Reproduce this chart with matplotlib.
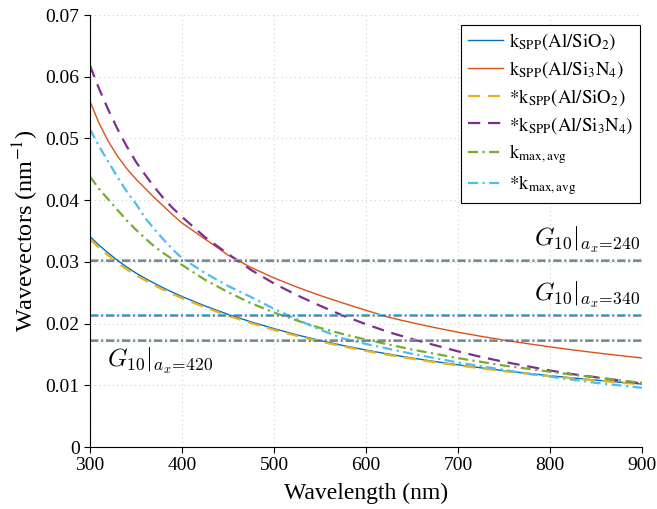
"""
Wavevectors vs wavelength: k_SPP curves and G10 reciprocal lattice levels
"""
import matplotlib.pyplot as plt
import numpy as np

plt.rcParams['font.family'] = ['Liberation Serif', 'DejaVu Serif']
plt.rcParams['mathtext.fontset'] = 'stix'

# Wavelength grid (nm): 10 nm steps up to 400, then 25 nm steps
wavelength = [300, 310, 320, 330, 340, 350, 360, 370, 380, 390, 400,
              425, 450, 475, 500, 525, 550, 575, 600, 625, 650, 675, 700,
              725, 750, 775, 800, 825, 850, 875, 900]

# (nm^-1)
k_spp_sio2 = [0.03410, 0.03267, 0.03142, 0.03022, 0.02916, 0.02818, 0.02733,
              0.02652, 0.02576, 0.02505, 0.02438,
              0.02286, 0.02150, 0.02028, 0.01918, 0.01817, 0.01726, 0.01645,
              0.01571, 0.01504, 0.01442, 0.01385, 0.01332, 0.01283, 0.01237,
              0.01195, 0.01155, 0.01119, 0.01084, 0.01051, 0.01020]
k_spp_si3n4 = [0.0560, 0.0524, 0.0495, 0.0471, 0.0451, 0.0434, 0.0419,
               0.0404, 0.0390, 0.0376, 0.0363,
               0.0337, 0.0311, 0.0291, 0.0274, 0.02591, 0.02456, 0.02333,
               0.02215, 0.02101, 0.02015, 0.01934, 0.01860, 0.01794, 0.01733,
               0.01676, 0.01623, 0.01573, 0.01527, 0.01484, 0.01442]
ks_spp_sio2 = [0.03365, 0.03225, 0.03102, 0.02984, 0.02880, 0.02784, 0.02700,
               0.02621, 0.02547, 0.02477, 0.02412,
               0.02262, 0.02128, 0.02008, 0.01899, 0.01800, 0.01710, 0.01630,
               0.01557, 0.01491, 0.01430, 0.01374, 0.01322, 0.01274, 0.01229,
               0.01188, 0.01148, 0.01112, 0.01078, 0.01046, 0.01015]
ks_spp_si3n4 = [0.0618, 0.0580, 0.0546, 0.0515, 0.0487, 0.0462, 0.0441,
                0.0421, 0.0403, 0.0387, 0.0373,
                0.0340, 0.0313, 0.0287, 0.0265, 0.0246, 0.0229, 0.0213,
                0.0199, 0.0186, 0.0175, 0.0165, 0.0155, 0.0146, 0.0138,
                0.0131, 0.0124, 0.0118, 0.0113, 0.0108, 0.0103]
k_max_avg = [0.0438, 0.0418, 0.0401, 0.0384, 0.0367, 0.0352, 0.0338,
             0.0325, 0.0314, 0.0304, 0.0295,
             0.0271, 0.0251, 0.0233, 0.0218, 0.0205, 0.0193, 0.0183, 0.0174,
             0.0166, 0.0158, 0.0151, 0.0144, 0.0138, 0.0132, 0.0127, 0.0122,
             0.0117, 0.0113, 0.0108, 0.0104]
ks_max_avg = [0.0515, 0.0487, 0.0462, 0.0437, 0.0414, 0.0394, 0.0371,
              0.0353, 0.0336, 0.0320, 0.0306,
              0.0282, 0.0261, 0.0243, 0.0224, 0.0207, 0.0190, 0.0176, 0.0167,
              0.0159, 0.0151, 0.0144, 0.0137, 0.0131, 0.0125, 0.0119, 0.0114,
              0.0109, 0.0104, 0.0100, 0.0096]

# G10 levels for the three lattice periods
g_periods = [240, 340, 420]
g_values = [0.03023, 0.02134, 0.01727]

fig = plt.figure(figsize=(6.57, 5.09), dpi=100)
ax = fig.add_axes([0.137, 0.1218, 0.84, 0.8487])

dashdot = (4.5, 2, 1, 2)
ax.plot(wavelength, k_spp_sio2, color='#0072BD', lw=1.0,
        label=r'$\mathrm{k_{SPP}(Al/SiO_2)}$')
ax.plot(wavelength, k_spp_si3n4, color='#D95319', lw=1.0,
        label=r'$\mathrm{k_{SPP}(Al/Si_3N_4)}$')
ax.plot(wavelength, ks_spp_sio2, color='#EDB120', lw=1.6, dashes=(5.5, 3.5),
        label=r'$\mathrm{*k_{SPP}(Al/SiO_2)}$')
ax.plot(wavelength, ks_spp_si3n4, color='#7E2F8E', lw=1.6, dashes=(5.5, 3.5),
        label=r'$\mathrm{*k_{SPP}(Al/Si_3N_4)}$')
ax.plot(wavelength, k_max_avg, color='#77AC30', lw=1.6, dashes=dashdot,
        label=r'$\mathrm{k_{max,avg}}$')
ax.plot(wavelength, ks_max_avg, color='#4DBEEE', lw=1.6, dashes=dashdot,
        label=r'$\mathrm{*k_{max,avg}}$')

# horizontal G10 lines: cyan dash-dot with a grey twin just below it
for g in g_values:
    ax.axhline(g + 0.0001, color='#4DBEEE', lw=1.0, dashes=(6, 2, 1.5, 2),
               snap=False)
    ax.axhline(g - 0.0001, color='#5f5f5f', lw=1.0, dashes=(6, 2, 1.5, 2),
               snap=False)

label_fmt = r'$G_{10}|_{a_x\!=\!%d}$'
ax.text(898, 0.0311, label_fmt % g_periods[0], ha='right', va='bottom',
        fontsize=18, math_fontfamily='cm')
ax.text(898, 0.0222, label_fmt % g_periods[1], ha='right', va='bottom',
        fontsize=18, math_fontfamily='cm')
ax.text(318, 0.0164, label_fmt % g_periods[2], ha='left', va='top',
        fontsize=18, math_fontfamily='cm')

ax.set_xlim(300, 900)
ax.set_ylim(0, 0.07)
ax.set_xticks(np.arange(300, 901, 100))
ax.set_yticks(np.arange(0, 0.0701, 0.01))
ax.set_yticklabels(['0', '0.01', '0.02', '0.03', '0.04', '0.05', '0.06', '0.07'])
ax.tick_params(labelsize=14, direction='out', length=4, width=0.8)
ax.set_xlabel('Wavelength (nm)', fontsize=17, labelpad=6)
ax.set_ylabel(r'Wavevectors (nm$^{-1}$)', fontsize=17.5, labelpad=3)

ax.grid(True, color='#d0d0d0', linestyle=(0, (1, 3)), lw=0.8)
for side in ['top', 'right']:
    ax.spines[side].set_visible(False)

leg = ax.legend(loc='upper right', bbox_to_anchor=(0.9964, 0.977), fontsize=13.5,
                frameon=True, fancybox=False, edgecolor='black', framealpha=1,
                handlelength=1.9, handletextpad=0.3, borderpad=0.35,
                labelspacing=0.36, borderaxespad=0)
leg.get_frame().set_linewidth(0.8)

fig.savefig('out.png', dpi=100)
